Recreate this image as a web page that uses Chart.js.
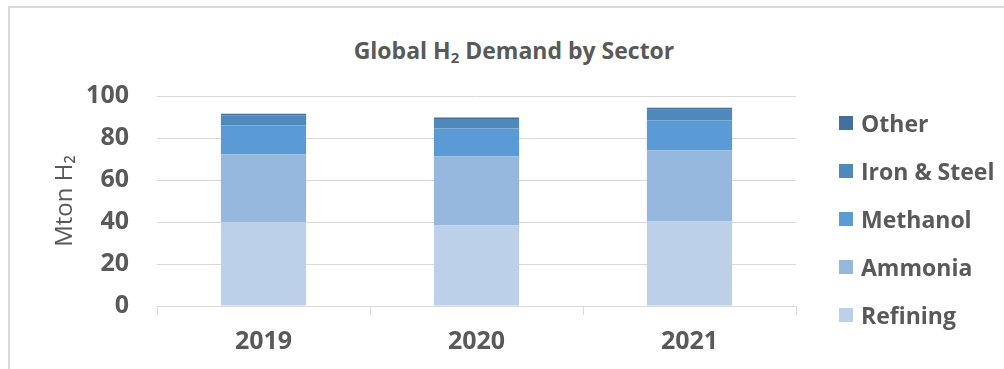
<!DOCTYPE html>
<html>
<head>
<meta charset="utf-8">
<script src="https://cdn.jsdelivr.net/npm/chart.js@4/dist/chart.umd.min.js"></script>
<style>
  html, body { margin: 0; padding: 0; background: #fff; }
  body { width: 1004px; height: 369px; position: relative; overflow: hidden; font-family: "Open Sans", sans-serif; color: #595959; }
  #frame { position: absolute; left: 8px; top: 6px; width: 1020px; height: 400px; border: 2px solid #d9d9d9; box-sizing: border-box; }
  #h2-chart { position: absolute; left: 0; top: 0; }
  #h2-title { position: absolute; left: 0; width: 1028px; top: 36px; text-align: center; font-weight: 700; font-size: 23px; line-height: 28px; }
  #h2-title sub { font-size: 15px; vertical-align: -4px; line-height: 0; }
  #h2-legend { position: absolute; left: 839px; top: 99px; }
  .lg-row { display: flex; align-items: center; height: 48px; }
  .lg-box { width: 14px; height: 14px; margin-right: 8px; }
  .lg-text { font-weight: 700; font-size: 23px; line-height: 28px; white-space: nowrap; }
</style>
</head>
<body>
<div id="frame"></div>
<div id="h2-title">Global H<sub>2</sub> Demand by Sector</div>
<canvas id="h2-chart" width="1004" height="369"></canvas>
<div id="h2-legend"></div>
<script>
// Hydrogen demand per sector, Mt H2
const years    = ['2019', '2020', '2021'];
const refining = [40.0, 38.5, 40.2];
const ammonia  = [32.1, 32.7, 33.8];
const methanol = [13.8, 13.3, 14.3];
const ironSteel = [4.9, 4.5, 5.1];
const other    = [0.8, 0.8, 1.0];

const yTicks = [0, 20, 40, 60, 80, 100];

const GREY = '#595959';
const GRID = '#d9d9d9';

const datasets = [
    { label: 'Refining',      data: refining,  backgroundColor: '#bdd0e9' },
    { label: 'Ammonia',       data: ammonia,   backgroundColor: '#96b8de' },
    { label: 'Methanol',      data: methanol,  backgroundColor: '#5b9bd5' },
    { label: 'Iron & Steel',  data: ironSteel, backgroundColor: '#4f88bb' },
    { label: 'Other',         data: other,     backgroundColor: '#41719c' }
].map(d => ({ ...d, barPercentage: 0.4, categoryPercentage: 1, borderWidth: 0 }));

const chart = new Chart(document.getElementById('h2-chart').getContext('2d'), {
    type: 'bar',
    data: { labels: years, datasets },
    options: {
        responsive: false,
        animation: false,
        layout: { padding: { left: 10, top: 96, right: 208, bottom: 13 } },
        plugins: {
            legend: { display: false },
            title: { display: false },
            tooltip: { enabled: false }
        },
        scales: {
            x: {
                stacked: true,
                afterFit: s => { s.height = 50; },
                grid: { display: true, drawOnChartArea: false, drawTicks: true, tickLength: 9, color: GRID, offset: true },
                border: { display: true, color: GRID, width: 1 },
                ticks: { color: GREY, padding: 12, font: { family: 'Open Sans', size: 25, weight: 'bold' } }
            },
            y: {
                stacked: true,
                min: 0,
                max: 100,
                afterFit: s => { s.width = 147; },
                afterBuildTicks: s => { s.ticks = yTicks.map(v => ({ value: v })); },
                grid: { color: GRID, lineWidth: 1, drawTicks: false },
                border: { display: false },
                ticks: { color: GREY, padding: 28, font: { family: 'Open Sans', size: 25, weight: 'bold' } },
                title: {
                    display: true,
                    text: 'Mton H₂',
                    color: GREY,
                    padding: { top: 41, bottom: 0 },
                    font: { family: 'Open Sans', size: 24, weight: 'normal' }
                }
            }
        }
    }
});

// legend list, top item is the last stacked series
const elLegend = document.getElementById('h2-legend');
chart.data.datasets.slice().reverse().forEach(ds => {
    const row = document.createElement('div');
    row.className = 'lg-row';
    const box = document.createElement('span');
    box.className = 'lg-box';
    box.style.background = ds.backgroundColor;
    const txt = document.createElement('span');
    txt.className = 'lg-text';
    txt.textContent = ds.label;
    row.appendChild(box);
    row.appendChild(txt);
    elLegend.appendChild(row);
});
</script>
</body>
</html>
